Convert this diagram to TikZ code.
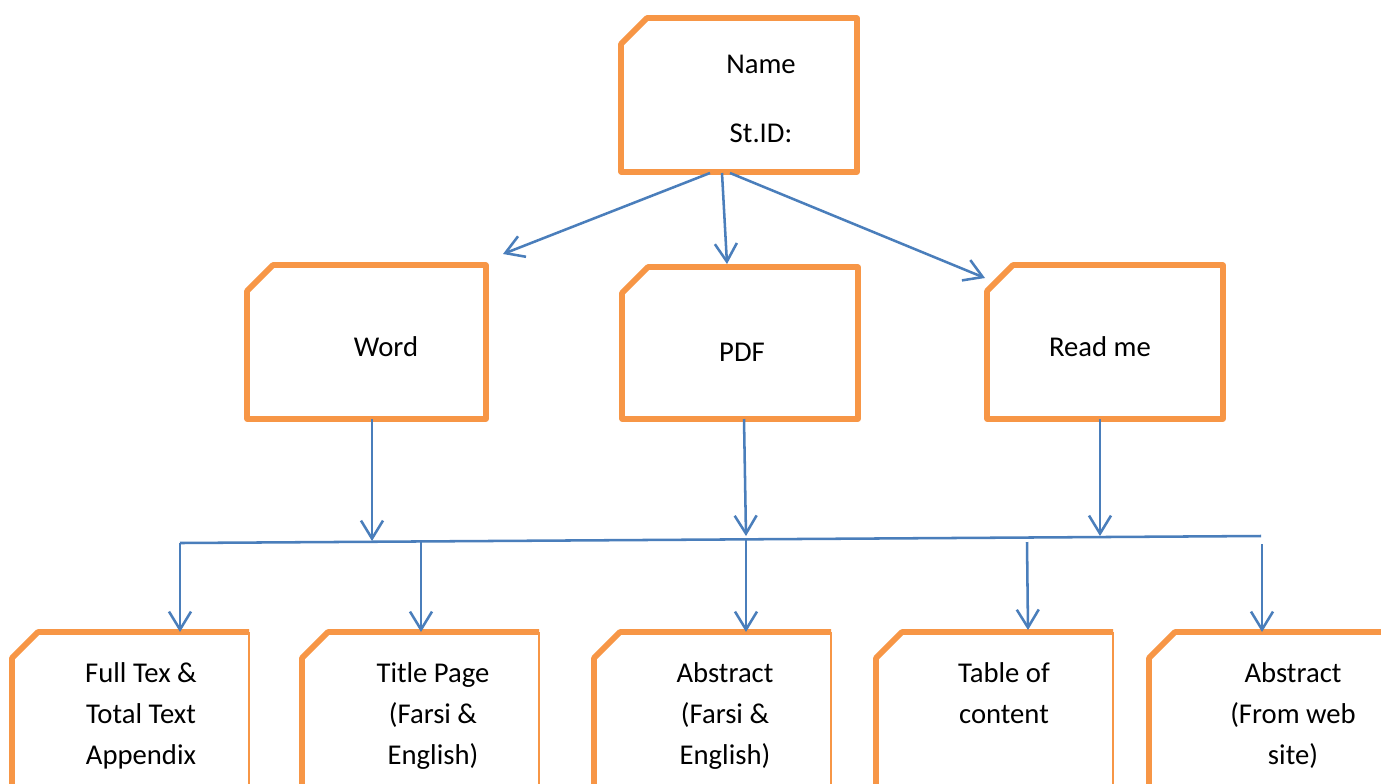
\documentclass[tikz,border=0pt]{standalone}
\usepackage{fontspec}
\setmainfont{Carlito}
\usetikzlibrary{arrows.meta,calc}
\definecolor{boxorange}{HTML}{F79646}
\definecolor{linkblue}{HTML}{4A7EBB}
\newcommand{\chamferbox}[1]{%
  \draw[obox] (#1.south west) -- ($(#1.north west)+(0,26)$) -- ($(#1.north west)+(26,0)$) -- (#1.north east) -- (#1.south east) -- cycle;}
\newcommand{\openbox}[1]{%
  \draw[obox] (#1.south west) -- ($(#1.north west)+(0,26)$) -- ($(#1.north west)+(26,0)$) -- (#1.north east);
  \draw[thinedge] (#1.north east) -- (#1.south east);}
\begin{document}
\begin{tikzpicture}[x=0.75pt,y=-0.75pt,
  boxnode/.style={draw=none,rectangle,inner sep=0pt,outer sep=0pt},
  obox/.style={draw=boxorange,line width=4.3pt,line join=round},
  thinedge/.style={draw=boxorange,line width=1.1pt},
  link/.style={draw=linkblue,line width=1.9pt,-{Straight Barb[length=13.5pt,width=16.5pt]}},
  bus/.style={draw=linkblue,line width=1.9pt},
  lbl/.style={font=\fontsize{21.5}{30.75}\selectfont,inner sep=0pt,anchor=base,align=center}]
\useasboundingbox (0,0) rectangle (1381,783);
\clip (0,0) rectangle (1381,783);
\fill[white] (0,0) rectangle (1381,783);
% boxes
\node[boxnode,minimum width=177pt,minimum height=115.5pt] (top) at (739,95) {};
\node[boxnode,minimum width=179.25pt,minimum height=115.5pt] (word) at (366.5,342) {};
\node[boxnode,minimum width=177pt,minimum height=114pt] (pdf) at (740,343) {};
\node[boxnode,minimum width=177pt,minimum height=115.5pt] (readme) at (1105,342) {};
\node[boxnode,minimum width=177.75pt,minimum height=127.5pt] (b1) at (130.5,717) {};
\node[boxnode,minimum width=177.75pt,minimum height=127.5pt] (b2) at (420.5,717) {};
\node[boxnode,minimum width=177.75pt,minimum height=127.5pt] (b3) at (712.5,717) {};
\node[boxnode,minimum width=177.75pt,minimum height=127.5pt] (b4) at (994.5,717) {};
\node[boxnode,minimum width=177.75pt,minimum height=127.5pt] (b5) at (1267.5,717) {};
\chamferbox{top}
\chamferbox{word}
\chamferbox{pdf}
\chamferbox{readme}
\openbox{b1}
\openbox{b2}
\openbox{b3}
\openbox{b4}
\openbox{b5}
% texts (base anchor = baseline of last line)
\node[lbl] (tname) at (761,73) {Name};
\node[lbl] (tid) at (761,142) {St.ID:};
\node[lbl] (tword) at (386,356.5) {Word};
\node[lbl] (tpdf) at (742,361.5) {PDF};
\node[lbl] (treadme) at (1100,356.5) {Read me};
\node[lbl] (t1) at (141,764) {Full Tex \&\\Total Text\\Appendix};
\node[lbl] (t2) at (433,764) {Title Page\\(Farsi \&\\English)};
\node[lbl] (t3) at (725,764) {Abstract\\(Farsi \&\\English)};
\node[lbl] (t4) at (1004,723) {Table of\\content};
\node[lbl] (t5) at (1293,764) {Abstract\\(From web\\site)};
% top arrows
\coordinate (e1) at (503,254);
\coordinate (e2) at (727,264);
\coordinate (e3) at (985,278);
\draw[link] ($(top.south)+(-29,1)$) -- (e1);
\draw[link] ($(top.south)+(-17,1)$) -- (e2);
\draw[link] ($(top.south)+(-9,1)$) -- (e3);
% down to bus
\coordinate (busL) at (180,543);
\coordinate (busR) at (1261,536);
\coordinate (m1) at (372,541);
\coordinate (m2) at (746,536);
\coordinate (m3) at (1100,536);
\draw[link] ($(word.south)+(5.5,0)$) -- (m1);
\draw[link] ($(pdf.south)+(4,0)$) -- (m2);
\draw[link] ($(readme.south)+(-5,0)$) -- (m3);
\draw[bus] (busR) -- (busL);
% bus to bottom boxes
\coordinate (s2) at (421,542);
\coordinate (s3) at (746,540);
\coordinate (s4) at (1027,542);
\coordinate (s5) at (1262,544);
\draw[link] (busL) -- ($(b1.north west)+(168,0)$);
\draw[link] (s2) -- ($(b2.north west)+(119,0)$);
\draw[link] (s3) -- ($(b3.north west)+(152,0)$);
\draw[link] (s4) -- ($(b4.north west)+(152,-2)$);
\draw[link] (s5) -- ($(b5.north west)+(113,0)$);
\end{tikzpicture}
\end{document}
